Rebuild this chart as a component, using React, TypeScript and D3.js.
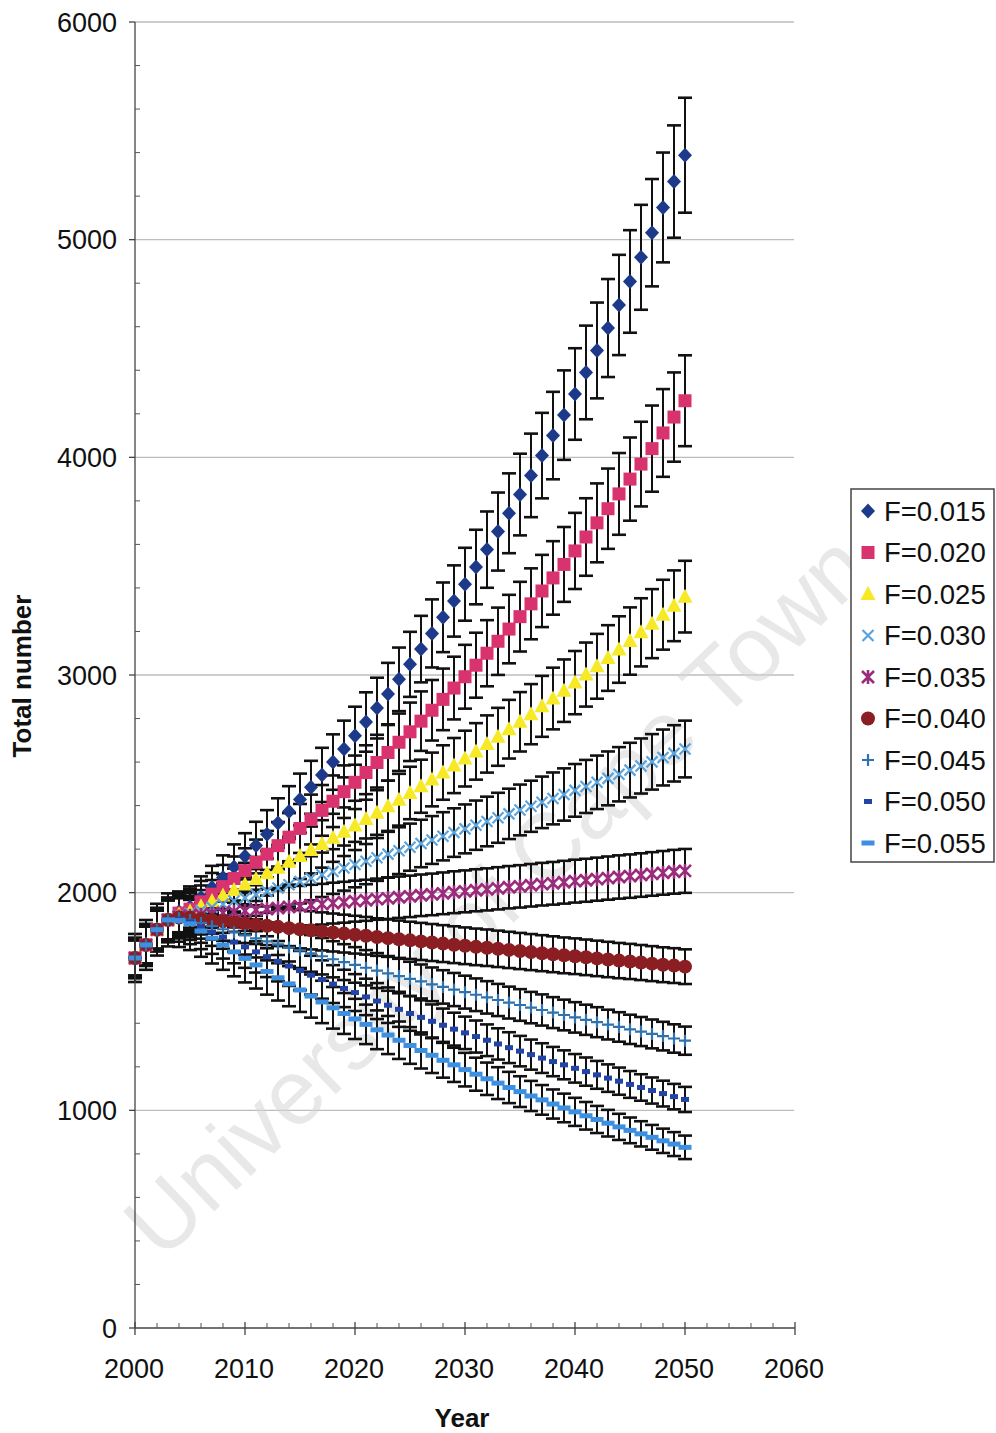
import React from "react";
import * as d3 from "d3";

// shared observed counts before the projections start
const historyYears = [2000, 2001, 2002, 2003];
const historyValues = [1700, 1760, 1830, 1875];

// projected years 2004..2050
const projYears = d3.range(2004, 2051);

const seriesNames = [
  "F=0.015", "F=0.020", "F=0.025", "F=0.030", "F=0.035",
  "F=0.040", "F=0.045", "F=0.050", "F=0.055",
];

const f015 = [1912,1934,1978,2024,2070,2118,2167,2217,2268,2320,2373,2428,2484,2541,2600,2660,2721,2784,2848,2913,2980,3049,3119,3191,3265,3340,3417,3496,3576,3659,3743,3829,3917,4008,4100,4194,4291,4390,4491,4594,4700,4808,4919,5032,5148,5267,5388];
const f020 = [1906,1924,1958,1993,2028,2065,2101,2139,2177,2216,2255,2295,2336,2378,2420,2464,2507,2552,2598,2644,2691,2739,2788,2838,2888,2940,2992,3045,3100,3155,3211,3268,3327,3386,3446,3508,3570,3634,3699,3764,3832,3900,3969,4040,4112,4185,4260];
const f025 = [1900,1914,1938,1962,1987,2012,2037,2063,2089,2115,2142,2169,2196,2224,2252,2280,2309,2338,2367,2397,2427,2458,2489,2520,2552,2584,2616,2649,2683,2716,2751,2785,2820,2856,2892,2928,2965,3002,3040,3078,3117,3156,3196,3236,3277,3318,3360];
const f030 = [1895,1904,1918,1933,1947,1962,1976,1991,2006,2021,2036,2051,2066,2082,2097,2113,2129,2144,2160,2177,2193,2209,2226,2242,2259,2276,2293,2310,2327,2344,2362,2380,2397,2415,2433,2451,2470,2488,2507,2525,2544,2563,2582,2601,2621,2640,2660];
const f035 = [1890,1894,1899,1903,1907,1912,1916,1921,1925,1929,1934,1938,1943,1947,1952,1956,1961,1965,1970,1974,1979,1983,1988,1992,1997,2002,2006,2011,2015,2020,2025,2029,2034,2039,2043,2048,2053,2057,2062,2067,2072,2076,2081,2086,2091,2096,2100];
const f040 = [1886,1885,1879,1874,1869,1864,1858,1853,1848,1843,1837,1832,1827,1822,1817,1812,1807,1802,1796,1791,1786,1781,1776,1771,1766,1761,1756,1751,1747,1742,1737,1732,1727,1722,1717,1712,1708,1703,1698,1693,1688,1684,1679,1674,1669,1665,1660];
const f045 = [1882,1875,1861,1846,1832,1818,1804,1790,1776,1762,1748,1735,1721,1708,1694,1681,1668,1655,1642,1629,1617,1604,1592,1579,1567,1555,1543,1531,1519,1507,1495,1484,1472,1461,1449,1438,1427,1416,1405,1394,1383,1372,1362,1351,1341,1330,1320];
const f050 = [1878,1866,1842,1819,1796,1773,1751,1728,1706,1685,1663,1642,1621,1601,1580,1560,1541,1521,1502,1483,1464,1445,1427,1409,1391,1373,1356,1339,1322,1305,1288,1272,1256,1240,1224,1209,1193,1178,1163,1148,1134,1119,1105,1091,1077,1063,1050];
const f055 = [1872,1857,1824,1791,1760,1728,1698,1668,1638,1609,1581,1553,1525,1498,1471,1445,1420,1395,1370,1346,1322,1298,1275,1253,1230,1209,1187,1166,1145,1125,1105,1086,1066,1048,1029,1011,993,975,958,941,924,908,892,876,860,845,830];

// relative half-width of the error bars per series
const errorFractions = [0.049, 0.049, 0.049, 0.049, 0.048, 0.048, 0.049, 0.055, 0.065];

const yTicks = [0, 1000, 2000, 3000, 4000, 5000, 6000];
const xTicks = [2000, 2010, 2020, 2030, 2040, 2050, 2060];

const seriesValues = [f015, f020, f025, f030, f035, f040, f045, f050, f055];
const colors = ["#1d3a8a", "#d8336e", "#f7e926", "#5ba3dc", "#9a2c7c", "#8a1e22", "#2f72ad", "#2244a6", "#3d90e0"];
const shapes = ["diamond", "square", "triangle", "x", "star", "circle", "plus", "dash", "longdash"];

const FONT = "'Liberation Sans', Arial, sans-serif";

function Marker({ shape, color, x, y }) {
  const t = `translate(${x},${y})`;
  switch (shape) {
    case "diamond":
      return <path transform={t} d="M0,-7.5L7,0L0,7.5L-7,0Z" fill={color} />;
    case "square":
      return <rect x={x - 6.5} y={y - 6.5} width={13} height={13} fill={color} />;
    case "triangle":
      return <path transform={t} d="M0,-8L7.5,6L-7.5,6Z" fill={color} />;
    case "x":
      return <path transform={t} d="M-5.5,-5.5L5.5,5.5M5.5,-5.5L-5.5,5.5" stroke={color} strokeWidth={2.2} fill="none" />;
    case "star":
      return <path transform={t} d="M-6,-6L6,6M6,-6L-6,6M0,-7L0,7" stroke={color} strokeWidth={2.6} fill="none" />;
    case "circle":
      return <circle cx={x} cy={y} r={7} fill={color} />;
    case "plus":
      return <path transform={t} d="M-6,0L6,0M0,-6L0,6" stroke={color} strokeWidth={2.2} fill="none" />;
    case "dash":
      return <rect x={x - 4} y={y - 2.5} width={8} height={5} fill={color} />;
    case "longdash":
      return <rect x={x - 6.5} y={y - 2.5} width={13} height={5} fill={color} />;
    default:
      return null;
  }
}

export default function App() {
  const width = 996;
  const height = 1433;

  const x = d3.scaleLinear().domain([2000, 2060]).range([135, 795]);
  const y = d3.scaleLinear().domain([0, 6000]).range([1328, 22]);

  const series = seriesValues.map((vals, i) => ({
    name: seriesNames[i],
    color: colors[i],
    shape: shapes[i],
    err: errorFractions[i],
    points: [
      ...historyYears.map((yr, k) => ({ year: yr, value: historyValues[k] })),
      ...projYears.map((yr, k) => ({ year: yr, value: vals[k] })),
    ],
  }));

  const minorY = d3.range(0, 6001, 200).filter((v) => v % 1000 !== 0);
  const minorX = d3.range(2000, 2061, 2).filter((v) => v % 10 !== 0);

  return (
    <svg width={width} height={height} style={{ position: "absolute", left: 0, top: 0, background: "#fff" }}>
      <rect width={width} height={height} fill="#fff" />

      {/* gridlines */}
      {yTicks.filter((t) => t > 0).map((t) => (
        <line key={t} x1={x(2000)} x2={794} y1={y(t)} y2={y(t)} stroke="#bdbdbd" strokeWidth={1.3} />
      ))}

      {/* watermark */}
      <text
        transform="translate(162,1262) rotate(-44)"
        fontFamily={FONT}
        fontSize={92}
        fill="#d6d6d6"
        opacity={0.55}
      >
        University of Cape Town
      </text>

      {/* error bars */}
      {series.map((s) => (
        <g key={s.name + "-err"} stroke="#111" fill="none">
          {s.points.map((p) => {
            const cx = x(p.year);
            const lo = y(p.value * (1 - s.err));
            const hi = y(p.value * (1 + s.err));
            return (
              <g key={p.year}>
                <line x1={cx} x2={cx} y1={lo} y2={hi} strokeWidth={2} />
                <line x1={cx - 7} x2={cx + 7} y1={lo} y2={lo} strokeWidth={2.6} />
                <line x1={cx - 7} x2={cx + 7} y1={hi} y2={hi} strokeWidth={2.6} />
              </g>
            );
          })}
        </g>
      ))}

      {/* markers */}
      {series.map((s) => (
        <g key={s.name + "-pts"}>
          {s.points.map((p) => (
            <Marker key={p.year} shape={s.shape} color={s.color} x={x(p.year)} y={y(p.value)} />
          ))}
        </g>
      ))}

      {/* y axis */}
      <line x1={x(2000)} x2={x(2000)} y1={y(0)} y2={y(6000)} stroke="#444" strokeWidth={1.3} />
      {yTicks.map((t) => (
        <g key={t}>
          <line x1={x(2000) - 6} x2={x(2000)} y1={y(t)} y2={y(t)} stroke="#444" strokeWidth={1.3} />
          <text x={117} y={y(t)} dy="0.36em" textAnchor="end" fontFamily={FONT} fontSize={27} fill="#111">
            {t}
          </text>
        </g>
      ))}
      {minorY.map((t) => (
        <line key={t} x1={x(2000)} x2={x(2000) + 5} y1={y(t)} y2={y(t)} stroke="#555" strokeWidth={1} />
      ))}

      {/* x axis */}
      <line x1={x(2000)} x2={x(2060)} y1={y(0)} y2={y(0)} stroke="#444" strokeWidth={1.3} />
      {xTicks.map((t) => (
        <g key={t}>
          <line x1={x(t)} x2={x(t)} y1={y(0) - 6} y2={y(0) + 7} stroke="#444" strokeWidth={1.3} />
          <text x={x(t) - 1} y={1378} textAnchor="middle" fontFamily={FONT} fontSize={27} fill="#111">
            {t}
          </text>
        </g>
      ))}
      {minorX.map((t) => (
        <line key={t} x1={x(t)} x2={x(t)} y1={y(0) - 5} y2={y(0)} stroke="#555" strokeWidth={1} />
      ))}

      {/* axis titles */}
      <text x={462} y={1427} textAnchor="middle" fontFamily={FONT} fontSize={26} fontWeight="bold" fill="#111">
        Year
      </text>
      <text
        transform="translate(31,676) rotate(-90)"
        textAnchor="middle"
        fontFamily={FONT}
        fontSize={26}
        fontWeight="bold"
        fill="#111"
      >
        Total number
      </text>

      {/* legend */}
      <g>
        <rect x={851} y={489} width={143} height={373} fill="#fff" stroke="#444" strokeWidth={1.5} />
        {series.map((s, i) => {
          const cy = 511 + i * 41.5;
          return (
            <g key={s.name}>
              <Marker shape={s.shape} color={s.color} x={868} y={cy} />
              <text x={884} y={cy} dy="0.36em" fontFamily={FONT} fontSize={27.5} fill="#111">
                {s.name}
              </text>
            </g>
          );
        })}
      </g>
    </svg>
  );
}
